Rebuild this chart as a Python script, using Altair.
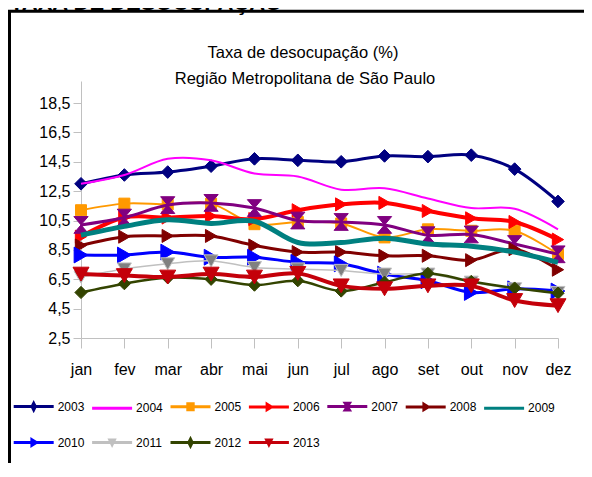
import altair as alt
import pandas as pd

months = ["jan", "fev", "mar", "abr", "mai", "jun", "jul", "ago", "set", "out", "nov", "dez"]
years = ["2003", "2004", "2005", "2006", "2007", "2008", "2009", "2010", "2011", "2012", "2013"]

v2003 = [13.0, 13.6, 13.8, 14.2, 14.7, 14.6, 14.5, 14.9, 14.85, 14.95, 14.0, 11.8]
v2004 = [13.0, 13.6, 14.7, 14.6, 13.7, 13.5, 12.6, 12.7, 12.0, 11.35, 11.3, 9.9]
v2005 = [11.2, 11.65, 11.6, 11.65, 10.25, 10.4, 10.3, 9.35, 9.9, 9.8, 9.8, 8.2]
v2006 = [9.4, 10.7, 10.7, 10.8, 10.6, 11.2, 11.6, 11.7, 11.15, 10.65, 10.4, 9.2]
v2007 = [10.2, 10.7, 11.55, 11.7, 11.35, 10.5, 10.4, 10.2, 9.5, 9.55, 8.9, 8.2]
v2008 = [8.8, 9.4, 9.45, 9.45, 8.8, 8.35, 8.35, 8.1, 8.1, 7.8, 8.55, 7.15]
v2009 = [9.5, 10.1, 10.55, 10.3, 10.45, 9.0, 9.0, 9.3, 8.9, 8.75, 8.35, 7.65]
v2010 = [8.15, 8.15, 8.35, 8.0, 8.0, 7.65, 7.55, 6.85, 6.4, 5.6, 5.85, 5.7]
v2011 = [6.65, 7.2, 7.55, 7.75, 7.3, 7.2, 7.1, 6.85, 6.85, 6.3, 5.85, 5.6]
v2012 = [5.6, 6.2, 6.6, 6.5, 6.1, 6.4, 5.7, 6.3, 6.9, 6.35, 5.9, 5.55]
v2013 = [6.85, 6.75, 6.65, 6.85, 6.65, 6.9, 6.05, 5.85, 6.05, 6.05, 5.05, 4.7]
series = [v2003, v2004, v2005, v2006, v2007, v2008, v2009, v2010, v2011, v2012, v2013]

line_colors = ["#000080", "#FF00FF", "#FF9900", "#FF0000", "#800080", "#800000",
               "#008080", "#0000FF", "#C0C0C0", "#334400", "#C4000A"]
fill_colors = ["#000080", "#FF00FF", "#FF9900", "#FF0000", "#800080", "#800000",
               "#008080", "#0000FF", "#808080", "#334400", "#C4000A"]
line_widths = [3, 2, 2, 4, 3, 3, 5, 3, 1.5, 2.5, 4]

HOURGLASS = "M-0.85,-1L0.85,-1L-0.85,1L0.85,1Z"
marker_shapes = ["diamond", None, "square", "triangle-right", HOURGLASS, "triangle-right",
                 None, "triangle-right", "triangle-down", "diamond", "triangle-down"]
marker_sizes = [160, 0, 121, 170, 280, 170, 0, 250, 196, 150, 256]

title_lines = ["Taxa de desocupação (%)", "Região Metropolitana de São Paulo"]
head_text = "TAXA DE DESOCUPAÇÃO"

LINE = "M-1.333,0H1.333"
DIA = LINE + "M0,-0.22L0.11,0L0,0.22L-0.11,0Z"
SQ = LINE + "M-0.18,-0.2H0.18V0.2H-0.18Z"
TRR = LINE + "M-0.12,-0.18L0.17,0L-0.12,0.18Z"
HG = LINE + "M-0.14,-0.22L0.14,-0.22L-0.14,0.22L0.14,0.22Z"
TRD = LINE + "M-0.15,-0.17L0.15,-0.17L0,0.14Z"
legend_paths = [DIA, LINE, SQ, TRR, HG, TRR, LINE, TRR, TRD, DIA, TRD]

rows = []
for yr, vals in zip(years, series):
    for i, v in enumerate(vals):
        rows.append({"ano": yr, "mes": i, "taxa": v})
df = pd.DataFrame(rows)

FONT = "Liberation Sans"

month_expr = "[" + ",".join("'%s'" % m for m in months) + "][datum.value]"

x_enc = alt.X("mes:Q", scale=alt.Scale(domain=[0, 11], nice=False, zero=False),
              axis=alt.Axis(title=None, values=list(range(12)), labelExpr=month_expr,
                            grid=False, domainColor="#c0c0c0", tickColor="#c0c0c0",
                            tickSize=10, labelPadding=13, labelFont=FONT, labelFontSize=16,
                            labelColor="black", labelAngle=0, labelFlush=False))
y_enc = alt.Y("taxa:Q", scale=alt.Scale(domain=[2.5, 20], nice=False, zero=False),
              axis=alt.Axis(title=None, values=[2.5, 4.5, 6.5, 8.5, 10.5, 12.5, 14.5, 16.5, 18.5],
                            labelExpr="replace(format(datum.value, '.1f'), '.', ',')",
                            grid=False, domainColor="#c0c0c0", tickColor="#c0c0c0",
                            tickSize=8, labelPadding=3, labelFont=FONT, labelFontSize=16,
                            labelColor="black", labelFlush=False))

stroke_scale = alt.Scale(domain=years, range=line_colors)
fill_scale = alt.Scale(domain=years, range=fill_colors)

leg = alt.Legend(title=None, orient="none", legendX=-63.8, legendY=309, direction="horizontal",
                 columns=7, symbolSize=900, symbolStrokeWidth=3, labelFont=FONT,
                 labelFontSize=12, labelColor="black", symbolOffset=0, labelOffset=7.5,
                 columnPadding=0.4, rowPadding=10, padding=0)

base = alt.Chart(df)

frame = alt.Chart(alt.Data(values=[{"k": 1}])).mark_rect(
    fillOpacity=0, stroke="black", strokeWidth=3
).encode(x=alt.value(-71.5), x2=alt.value(560), y=alt.value(-69.7), y2=alt.value(500))

big_title = alt.Chart(alt.Data(values=[{"t": head_text}])).mark_text(
    font=FONT, fontSize=22, fontWeight="bold", align="left", baseline="alphabetic", color="black"
).encode(x=alt.value(-71), y=alt.value(-71.5), text="t:N")

title1 = alt.Chart(alt.Data(values=[{"t": title_lines[0]}])).mark_text(
    font=FONT, fontSize=16.5, align="center", baseline="alphabetic", color="black"
).encode(x=alt.value(222), y=alt.value(-23), text="t:N")
title2 = alt.Chart(alt.Data(values=[{"t": title_lines[1]}])).mark_text(
    font=FONT, fontSize=16.5, align="center", baseline="alphabetic", color="black"
).encode(x=alt.value(224), y=alt.value(2.5), text="t:N")

series_layers = []
for yr, w, shp, sz in zip(years, line_widths, marker_shapes, marker_sizes):
    sub = base.transform_filter(alt.datum.ano == yr)
    series_layers.append(
        sub.mark_line(interpolate="cardinal", strokeWidth=w).encode(
            x=x_enc, y=y_enc,
            stroke=alt.Stroke("ano:N", scale=stroke_scale, legend=leg),
        )
    )
    if shp is not None:
        series_layers.append(
            sub.mark_point(shape=shp, size=sz, filled=True, strokeWidth=1, opacity=1).encode(
                x=x_enc, y=y_enc,
                fill=alt.Fill("ano:N", scale=fill_scale, legend=leg),
                stroke=alt.Stroke("ano:N", scale=stroke_scale, legend=leg),
            )
        )

legend_layer = base.transform_filter("datum.mes < 0").mark_point(filled=True, opacity=1).encode(
    x=x_enc, y=y_enc,
    shape=alt.Shape("ano:N", scale=alt.Scale(domain=years, range=legend_paths), legend=leg),
    fill=alt.Fill("ano:N", scale=fill_scale, legend=leg),
    stroke=alt.Stroke("ano:N", scale=stroke_scale, legend=leg),
)

chart = alt.layer(frame, big_title, title1, title2, *series_layers, legend_layer).properties(
    width=477, height=257,
    autosize=alt.AutoSizeParams(type="none"),
    padding={"left": 73, "top": 73, "right": 26, "bottom": 125},
).configure_view(stroke=None)

chart.save("out.html", embed_options={"renderer": "svg", "actions": False})
